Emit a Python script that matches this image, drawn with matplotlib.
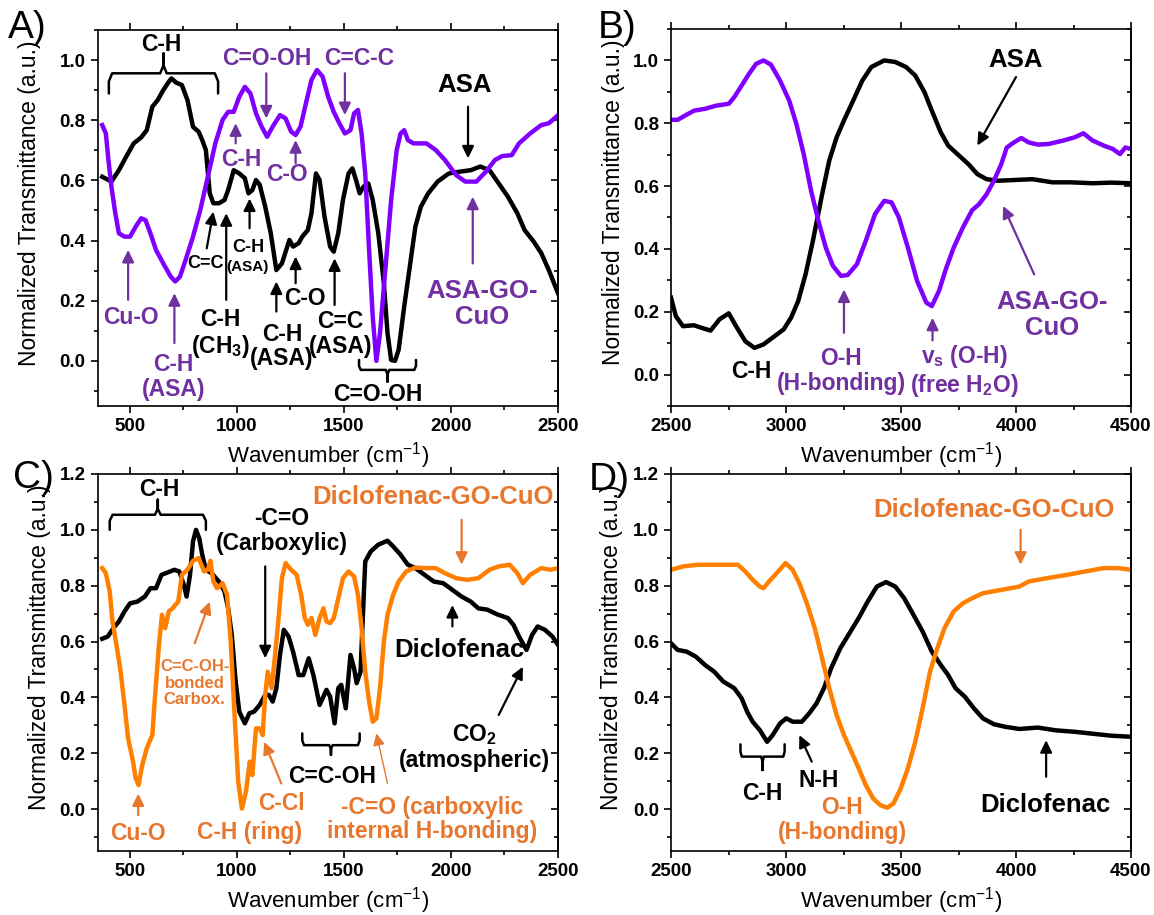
import matplotlib
matplotlib.use('Agg')
import matplotlib.pyplot as plt
from matplotlib.ticker import MultipleLocator

plt.rcParams['font.family'] = ['Liberation Sans', 'DejaVu Sans']
plt.rcParams['mathtext.fontset'] = 'custom'
plt.rcParams['mathtext.rm'] = 'Liberation Sans'
plt.rcParams['mathtext.bf'] = 'Liberation Sans:bold'
plt.rcParams['mathtext.it'] = 'Liberation Sans:italic'

# colours
BLACK = 'black'
PURPLE_LINE = '#8000FF'
PURPLE_TXT = '#7030A0'
ORANGE_LINE = '#FF8000'
ORANGE_TXT = '#E8772E'

# ---- data ----
# A) ASA, 350-2500 cm-1
asa_low_x = [372, 415, 450, 484, 519, 554, 580, 606, 631, 657, 683, 695, 718, 744, 770, 796, 822, 839, 856, 874,
             891, 917, 943, 960, 986, 1012, 1038, 1055, 1073, 1090, 1107, 1133, 1159, 1185, 1211, 1246, 1263, 1289,
             1306, 1332, 1349, 1370, 1387, 1410, 1436, 1453, 1474, 1496, 1522, 1540, 1557, 1574, 1592, 1614, 1635,
             1661, 1687, 1704, 1721, 1739, 1756, 1782, 1808, 1834, 1860, 1894, 1938, 1990, 2041, 2093, 2137, 2180,
             2223, 2266, 2310, 2344, 2387, 2422, 2457, 2500]
asa_low_y = [0.612, 0.596, 0.634, 0.679, 0.723, 0.743, 0.767, 0.845, 0.867, 0.900, 0.928, 0.939, 0.925, 0.917,
             0.867, 0.778, 0.762, 0.734, 0.701, 0.557, 0.524, 0.524, 0.535, 0.568, 0.634, 0.623, 0.607, 0.557,
             0.568, 0.601, 0.586, 0.513, 0.424, 0.302, 0.324, 0.402, 0.380, 0.391, 0.413, 0.435, 0.491, 0.623,
             0.601, 0.479, 0.380, 0.363, 0.424, 0.535, 0.623, 0.640, 0.601, 0.557, 0.579, 0.590, 0.535, 0.424,
             0.258, 0.092, 0.003, 0.0, 0.037, 0.181, 0.313, 0.446, 0.513, 0.557, 0.596, 0.623, 0.629, 0.634,
             0.646, 0.634, 0.590, 0.546, 0.491, 0.435, 0.396, 0.358, 0.302, 0.225]

asa_go_low_x = [372, 389, 401, 415, 433, 450, 476, 502, 528, 554, 574, 597, 623, 657, 692, 713, 735, 761, 796,
                830, 865, 900, 934, 960, 986, 1012, 1038, 1064, 1090, 1116, 1142, 1168, 1202, 1228, 1254, 1275,
                1298, 1323, 1349, 1375, 1401, 1427, 1453, 1479, 1505, 1531, 1548, 1566, 1583, 1600, 1618, 1635,
                1652, 1669, 1695, 1721, 1747, 1765, 1782, 1799, 1825, 1886, 1929, 1972, 2024, 2067, 2119, 2163,
                2206, 2240, 2284, 2318, 2370, 2422, 2457, 2483, 2500]
asa_go_low_y = [0.784, 0.756, 0.668, 0.579, 0.491, 0.424, 0.413, 0.413, 0.446, 0.474, 0.468, 0.424, 0.369,
                0.324, 0.280, 0.264, 0.280, 0.335, 0.413, 0.502, 0.612, 0.723, 0.801, 0.828, 0.828, 0.878,
                0.911, 0.889, 0.823, 0.779, 0.745, 0.779, 0.817, 0.806, 0.762, 0.751, 0.779, 0.856, 0.934,
                0.967, 0.945, 0.878, 0.828, 0.790, 0.756, 0.767, 0.823, 0.834, 0.756, 0.623, 0.369, 0.147,
                0.0, 0.092, 0.313, 0.535, 0.701, 0.756, 0.767, 0.734, 0.723, 0.723, 0.701, 0.668, 0.618,
                0.596, 0.596, 0.629, 0.668, 0.681, 0.684, 0.723, 0.756, 0.784, 0.790, 0.806, 0.817]

# B) ASA, 2500-4500 cm-1
asa_high_x = [2500, 2521, 2552, 2600, 2632, 2672, 2711, 2751, 2783, 2823, 2863, 2902, 2950, 2990, 3022, 3053,
              3085, 3117, 3157, 3188, 3220, 3252, 3292, 3332, 3371, 3427, 3475, 3522, 3562, 3602, 3634, 3673,
              3705, 3745, 3793, 3832, 3872, 3920, 3983, 4071, 4158, 4238, 4333, 4413, 4500]
asa_high_y = [0.245, 0.186, 0.154, 0.157, 0.149, 0.140, 0.176, 0.195, 0.154, 0.106, 0.085, 0.096, 0.122,
              0.144, 0.181, 0.234, 0.319, 0.426, 0.574, 0.681, 0.755, 0.809, 0.872, 0.936, 0.979, 1.0, 0.995,
              0.979, 0.952, 0.899, 0.840, 0.771, 0.729, 0.702, 0.670, 0.638, 0.622, 0.617, 0.619, 0.622,
              0.612, 0.612, 0.609, 0.611, 0.609]

asa_go_high_x = [2500, 2529, 2560, 2600, 2648, 2696, 2751, 2775, 2807, 2839, 2870, 2902, 2934, 2974, 3014,
                 3045, 3077, 3109, 3141, 3173, 3204, 3239, 3268, 3308, 3347, 3387, 3427, 3459, 3491, 3530,
                 3570, 3610, 3634, 3665, 3697, 3729, 3769, 3809, 3840, 3872, 3904, 3936, 3960, 3991, 4023,
                 4055, 4095, 4142, 4206, 4254, 4293, 4333, 4381, 4421, 4452, 4476, 4500]
asa_go_high_y = [0.811, 0.811, 0.824, 0.840, 0.846, 0.856, 0.862, 0.883, 0.920, 0.957, 0.989, 1.0, 0.987,
                 0.936, 0.872, 0.798, 0.702, 0.585, 0.489, 0.404, 0.346, 0.314, 0.317, 0.351, 0.426, 0.511,
                 0.553, 0.548, 0.500, 0.404, 0.298, 0.229, 0.218, 0.266, 0.340, 0.404, 0.468, 0.523, 0.543,
                 0.574, 0.617, 0.670, 0.723, 0.739, 0.753, 0.739, 0.732, 0.734, 0.745, 0.755, 0.768, 0.745,
                 0.729, 0.718, 0.702, 0.723, 0.718]

# C) Diclofenac, 350-2500 cm-1
dcf_low_x = [372, 398, 424, 450, 476, 502, 536, 571, 597, 623, 649, 683, 709, 732, 753, 766, 782, 796, 810, 825,
             839, 856, 882, 917, 943, 960, 977, 995, 1012, 1038, 1059, 1081, 1107, 1133, 1150, 1168, 1185, 1202,
             1220, 1242, 1263, 1289, 1311, 1336, 1358, 1387, 1419, 1436, 1457, 1474, 1488, 1509, 1531, 1548,
             1560, 1578, 1600, 1626, 1661, 1704, 1730, 1765, 1799, 1834, 1877, 1920, 1964, 2007, 2050, 2093,
             2128, 2171, 2214, 2266, 2292, 2318, 2353, 2379, 2405, 2439, 2474, 2500]
dcf_low_y = [0.610, 0.618, 0.648, 0.672, 0.708, 0.737, 0.743, 0.761, 0.791, 0.791, 0.839, 0.849, 0.857, 0.851,
             0.803, 0.761, 0.839, 0.959, 1.0, 0.970, 0.911, 0.857, 0.845, 0.815, 0.779, 0.719, 0.624, 0.457,
             0.349, 0.307, 0.343, 0.349, 0.373, 0.409, 0.409, 0.385, 0.433, 0.552, 0.642, 0.618, 0.564, 0.480,
             0.480, 0.540, 0.480, 0.373, 0.427, 0.403, 0.307, 0.433, 0.445, 0.361, 0.552, 0.504, 0.451, 0.492,
             0.887, 0.923, 0.947, 0.961, 0.941, 0.911, 0.875, 0.863, 0.839, 0.815, 0.809, 0.785, 0.761, 0.743,
             0.719, 0.714, 0.698, 0.684, 0.660, 0.618, 0.570, 0.624, 0.654, 0.642, 0.618, 0.588]

dcf_go_low_x = [372, 389, 407, 420, 441, 458, 476, 493, 516, 528, 542, 559, 580, 606, 619, 637, 651, 666, 683,
                701, 713, 727, 744, 770, 796, 822, 848, 865, 877, 891, 908, 934, 955, 972, 990, 1007, 1024,
                1043, 1061, 1073, 1090, 1107, 1121, 1133, 1145, 1163, 1176, 1194, 1211, 1228, 1254, 1280, 1301,
                1318, 1332, 1349, 1367, 1387, 1405, 1419, 1436, 1453, 1471, 1496, 1522, 1548, 1566, 1583, 1600,
                1618, 1635, 1652, 1669, 1687, 1704, 1730, 1756, 1791, 1834, 1886, 1929, 1972, 2024, 2076, 2128,
                2180, 2223, 2275, 2310, 2336, 2370, 2422, 2465, 2500]
dcf_go_low_y = [0.863, 0.845, 0.779, 0.672, 0.576, 0.492, 0.373, 0.253, 0.170, 0.110, 0.086, 0.158, 0.218,
                0.265, 0.409, 0.588, 0.696, 0.648, 0.708, 0.719, 0.731, 0.743, 0.839, 0.857, 0.889, 0.899,
                0.851, 0.857, 0.889, 0.815, 0.791, 0.809, 0.767, 0.600, 0.337, 0.098, 0.002, 0.062, 0.170,
                0.122, 0.289, 0.289, 0.265, 0.409, 0.492, 0.433, 0.528, 0.672, 0.827, 0.881, 0.857, 0.839,
                0.767, 0.684, 0.660, 0.684, 0.624, 0.684, 0.719, 0.672, 0.666, 0.684, 0.743, 0.827, 0.851,
                0.833, 0.767, 0.648, 0.492, 0.385, 0.313, 0.325, 0.433, 0.600, 0.696, 0.767, 0.815, 0.851,
                0.865, 0.863, 0.863, 0.845, 0.827, 0.821, 0.827, 0.857, 0.869, 0.875, 0.845, 0.809, 0.839,
                0.863, 0.857, 0.863]

# D) Diclofenac, 2500-4500 cm-1
dcf_high_x = [2500, 2529, 2568, 2608, 2648, 2688, 2727, 2775, 2807, 2831, 2855, 2886, 2918, 2942, 2974, 3001,
              3029, 3069, 3101, 3133, 3165, 3196, 3236, 3276, 3316, 3355, 3395, 3435, 3475, 3514, 3554, 3594,
              3634, 3673, 3705, 3737, 3777, 3817, 3856, 3904, 3952, 4015, 4095, 4174, 4254, 4333, 4413, 4500]
dcf_high_y = [0.594, 0.570, 0.564, 0.546, 0.516, 0.492, 0.457, 0.433, 0.397, 0.349, 0.313, 0.283, 0.241,
              0.265, 0.307, 0.325, 0.313, 0.313, 0.343, 0.379, 0.433, 0.504, 0.576, 0.630, 0.684, 0.743,
              0.797, 0.813, 0.797, 0.755, 0.696, 0.636, 0.564, 0.516, 0.480, 0.433, 0.403, 0.361, 0.325,
              0.304, 0.295, 0.287, 0.292, 0.282, 0.277, 0.270, 0.263, 0.259]

dcf_go_high_x = [2500, 2552, 2616, 2680, 2743, 2791, 2823, 2855, 2886, 2902, 2926, 2966, 2998, 3029, 3061,
                 3093, 3125, 3157, 3188, 3220, 3252, 3284, 3316, 3347, 3379, 3411, 3440, 3467, 3499, 3530,
                 3562, 3594, 3626, 3658, 3689, 3729, 3769, 3809, 3856, 3936, 4015, 4055, 4135, 4222, 4301,
                 4381, 4445, 4500]
dcf_go_high_y = [0.857, 0.869, 0.875, 0.875, 0.875, 0.875, 0.851, 0.821, 0.797, 0.791, 0.815, 0.851, 0.881,
                 0.857, 0.803, 0.731, 0.648, 0.540, 0.433, 0.337, 0.265, 0.206, 0.146, 0.086, 0.038, 0.014,
                 0.005, 0.020, 0.074, 0.146, 0.241, 0.361, 0.492, 0.576, 0.648, 0.708, 0.737, 0.755, 0.773,
                 0.785, 0.797, 0.815, 0.827, 0.839, 0.851, 0.863, 0.863, 0.857]

BIG, MED, SMALL = 18.5, 16.5, 12.5


def style_axes(ax, xlim, ylim, ylab_x):
    ax.set_xlim(*xlim)
    ax.set_ylim(*ylim)
    ax.xaxis.set_major_locator(MultipleLocator(500))
    ax.xaxis.set_minor_locator(MultipleLocator(250))
    ax.yaxis.set_major_locator(MultipleLocator(0.2))
    ax.yaxis.set_minor_locator(MultipleLocator(0.1))
    ax.tick_params(which='both', direction='out', top=True, width=1.2, pad=3.5)
    ax.tick_params(which='major', length=5)
    ax.tick_params(which='minor', length=3)
    ax.tick_params(labelsize=13.5)
    for lab in ax.get_xticklabels() + ax.get_yticklabels():
        lab.set_fontweight('bold')
    for sp in ax.spines.values():
        sp.set_linewidth(1.2)
    # right side ticks point inwards
    sec = ax.secondary_yaxis('right')
    sec.yaxis.set_major_locator(MultipleLocator(0.2))
    sec.yaxis.set_minor_locator(MultipleLocator(0.1))
    sec.tick_params(which='both', direction='in', width=1.2, labelright=False)
    sec.tick_params(which='major', length=5)
    sec.tick_params(which='minor', length=3)
    sec.spines['right'].set_linewidth(1.2)
    ax.set_xlabel('Wavenumber (cm$^{-1}$)', fontsize=16, va='center')
    ax.xaxis.set_label_coords(0.5, -0.132)
    ax.set_ylabel('Normalized Transmittance (a.u.)', fontsize=16.5, va='center')
    ax.yaxis.set_label_coords(ylab_x, 0.54)


def label(ax, x, y, s, color, size=MED, **kw):
    ax.text(x, y, s, color=color, fontsize=size, fontweight='bold', ha='center', va='center',
            linespacing=1.1, **kw)


def arrow(ax, x0, y0, x1, y1, color, lw=1.6):
    ax.annotate('', xy=(x1, y1), xytext=(x0, y0),
                arrowprops=dict(arrowstyle='-|>,head_length=0.45,head_width=0.22', color=color, lw=lw,
                                shrinkA=0, shrinkB=0, mutation_scale=16))


def brace(ax, x0, x1, y, end, tip, color=BLACK):
    xm = (x0 + x1) / 2
    dx = (x1 - x0) * 0.03
    ce = y + 0.4 * (end - y)
    ct = y + 0.4 * (tip - y)
    xs = [x0, x0, x0 + dx, xm - dx, xm, xm, xm, xm + dx, x1 - dx, x1, x1]
    ys = [end, ce, y, y, ct, tip, ct, y, y, ce, end]
    ax.plot(xs, ys, color=color, lw=1.8, solid_joinstyle='round', solid_capstyle='round')


fig = plt.figure(figsize=(11.54, 9.15), dpi=100)
W, H = 1154, 915


def add_axes(left, right, top, bottom):
    return fig.add_axes([left / W, 1 - bottom / H, (right - left) / W, (bottom - top) / H])


axA = add_axes(97.5, 558, 30, 406)
axB = add_axes(671, 1131, 29, 406)
axC = add_axes(97.5, 558, 474, 851)
axD = add_axes(671, 1131, 474, 851)

# ---------------- A ----------------
ax = axA
ax.plot(asa_low_x, asa_low_y, color=BLACK, lw=3.2, solid_joinstyle='round')
ax.plot(asa_go_low_x, asa_go_low_y, color=PURPLE_LINE, lw=3.2, solid_joinstyle='round')
style_axes(ax, (350, 2500), (-0.15, 1.1), -0.147)

brace(ax, 403, 913, 0.956, 0.889, 1.022)
label(ax, 650, 1.052, 'C-H', BLACK)
brace(ax, 1571, 1837, -0.030, 0.003, -0.069)
label(ax, 1661, -0.112, 'C=O-OH', BLACK)

label(ax, 2062, 0.917, 'ASA', BLACK, BIG)
arrow(ax, 2080, 0.845, 2080, 0.673, BLACK)
label(ax, 2145, 0.19, 'ASA-GO-\nCuO', PURPLE_TXT, BIG)
arrow(ax, 2102, 0.324, 2102, 0.546, PURPLE_TXT)

label(ax, 1142, 1.005, 'C=O-OH', PURPLE_TXT)
arrow(ax, 1138, 0.956, 1138, 0.806, PURPLE_TXT)
label(ax, 1574, 1.005, 'C=C-C', PURPLE_TXT)
arrow(ax, 1505, 0.956, 1505, 0.817, PURPLE_TXT)
label(ax, 1021, 0.670, 'C-H', PURPLE_TXT)
arrow(ax, 995, 0.723, 995, 0.790, PURPLE_TXT)
label(ax, 1233, 0.621, 'C-O', PURPLE_TXT)
arrow(ax, 1275, 0.657, 1275, 0.734, PURPLE_TXT)
label(ax, 505, 0.145, 'Cu-O', PURPLE_TXT)
arrow(ax, 493, 0.203, 493, 0.369, PURPLE_TXT)
label(ax, 706, -0.054, 'C-H\n(ASA)', PURPLE_TXT)
arrow(ax, 709, 0.059, 709, 0.225, PURPLE_TXT)

label(ax, 856, 0.324, 'C=C', BLACK, 13)
arrow(ax, 860, 0.374, 891, 0.496, BLACK)
label(ax, 925, 0.09, 'C-H\n(CH$_\\mathbf{3}$)', BLACK)
arrow(ax, 951, 0.203, 951, 0.491, BLACK)
label(ax, 1052, 0.378, 'C-H', BLACK, 13)
label(ax, 1052, 0.313, '(ASA)', BLACK, 11)
arrow(ax, 1060, 0.441, 1060, 0.540, BLACK)
label(ax, 1211, 0.048, 'C-H\n(ASA)', BLACK)
arrow(ax, 1185, 0.164, 1185, 0.264, BLACK)
label(ax, 1318, 0.206, 'C-O', BLACK)
arrow(ax, 1275, 0.258, 1275, 0.347, BLACK)
label(ax, 1484, 0.089, 'C=C\n(ASA)', BLACK)
arrow(ax, 1457, 0.186, 1457, 0.341, BLACK)

# ---------------- B ----------------
ax = axB
ax.plot(asa_high_x, asa_high_y, color=BLACK, lw=3.2, solid_joinstyle='round')
ax.plot(asa_go_high_x, asa_go_high_y, color=PURPLE_LINE, lw=3.2, solid_joinstyle='round')
style_axes(ax, (2500, 4500), (-0.1, 1.1), -0.126)

label(ax, 4000, 1.0, 'ASA', BLACK, BIG)
arrow(ax, 4000, 0.947, 3832, 0.729, BLACK)
label(ax, 2851, 0.011, 'C-H', BLACK)
label(ax, 3239, 0.012, 'O-H\n(H-bonding)', PURPLE_TXT)
arrow(ax, 3252, 0.133, 3252, 0.271, PURPLE_TXT)
label(ax, 3777, 0.012, '$\\mathbf{v_s}$ (O-H)\n(free H$_\\mathbf{2}$O)', PURPLE_TXT)
arrow(ax, 3637, 0.109, 3637, 0.181, PURPLE_TXT)
label(ax, 4158, 0.19, 'ASA-GO-\nCuO', PURPLE_TXT, BIG)
arrow(ax, 4079, 0.319, 3944, 0.537, PURPLE_TXT)

# ---------------- C ----------------
ax = axC
ax.plot(dcf_low_x, dcf_low_y, color=BLACK, lw=3.2, solid_joinstyle='round')
ax.plot(dcf_go_low_x, dcf_go_low_y, color=ORANGE_LINE, lw=3.2, solid_joinstyle='round')
style_axes(ax, (350, 2500), (-0.15, 1.2), -0.125)

brace(ax, 407, 856, 1.054, 1.000, 1.108)
label(ax, 637, 1.144, 'C-H', BLACK)
label(ax, 1211, 0.997, '-C=O\n(Carboxylic)', BLACK)
arrow(ax, 1133, 0.869, 1133, 0.540, BLACK)
label(ax, 1918, 1.116, 'Diclofenac-GO-CuO', ORANGE_TXT, BIG)
arrow(ax, 2050, 1.036, 2050, 0.875, ORANGE_TXT)
label(ax, 2041, 0.570, 'Diclofenac', BLACK, BIG)
arrow(ax, 2007, 0.654, 2007, 0.731, BLACK)
label(ax, 2111, 0.223, 'CO$_\\mathbf{2}$\n(atmospheric)', BLACK)
arrow(ax, 2223, 0.337, 2336, 0.510, BLACK)
label(ax, 804, 0.451, 'C=C-OH-\nbonded\nCarbox.', ORANGE_TXT, 12)
arrow(ax, 804, 0.594, 874, 0.743, ORANGE_TXT)
label(ax, 540, -0.087, 'Cu-O', ORANGE_TXT)
arrow(ax, 540, -0.022, 540, 0.056, ORANGE_TXT)
label(ax, 1061, -0.084, 'C-H (ring)', ORANGE_TXT)
label(ax, 1211, 0.020, 'C-Cl', ORANGE_TXT)
arrow(ax, 1208, 0.092, 1128, 0.241, ORANGE_TXT)
brace(ax, 1306, 1574, 0.229, 0.271, 0.194)
label(ax, 1445, 0.116, 'C=C-OH', BLACK)
label(ax, 1912, -0.037, '-C=O (carboxylic\ninternal H-bonding)', ORANGE_TXT)
arrow(ax, 1704, 0.092, 1652, 0.271, ORANGE_TXT, lw=1.0)

# ---------------- D ----------------
ax = axD
ax.plot(dcf_high_x, dcf_high_y, color=BLACK, lw=3.2, solid_joinstyle='round')
ax.plot(dcf_go_high_x, dcf_go_high_y, color=ORANGE_LINE, lw=3.2, solid_joinstyle='round')
style_axes(ax, (2500, 4500), (-0.15, 1.2), -0.129)

label(ax, 3904, 1.072, 'Diclofenac-GO-CuO', ORANGE_TXT, BIG)
arrow(ax, 4020, 1.000, 4020, 0.875, ORANGE_TXT)
brace(ax, 2802, 2994, 0.188, 0.232, 0.140)
label(ax, 2898, 0.056, 'C-H', BLACK)
label(ax, 3141, 0.104, 'N-H', BLACK)
arrow(ax, 3112, 0.170, 3058, 0.265, BLACK)
label(ax, 3244, -0.04, 'O-H\n(H-bonding)', ORANGE_TXT)
label(ax, 4127, 0.014, 'Diclofenac', BLACK, BIG)
arrow(ax, 4131, 0.116, 4131, 0.247, BLACK)

# panel letters
for s, px, py in [('A)', 27, 28), ('B)', 617, 28), ('C)', 33, 478), ('D)', 609, 480)]:
    fig.text(px / W, 1 - py / H, s, fontsize=28, ha='center', va='center')

fig.savefig('out.png', dpi=100)
